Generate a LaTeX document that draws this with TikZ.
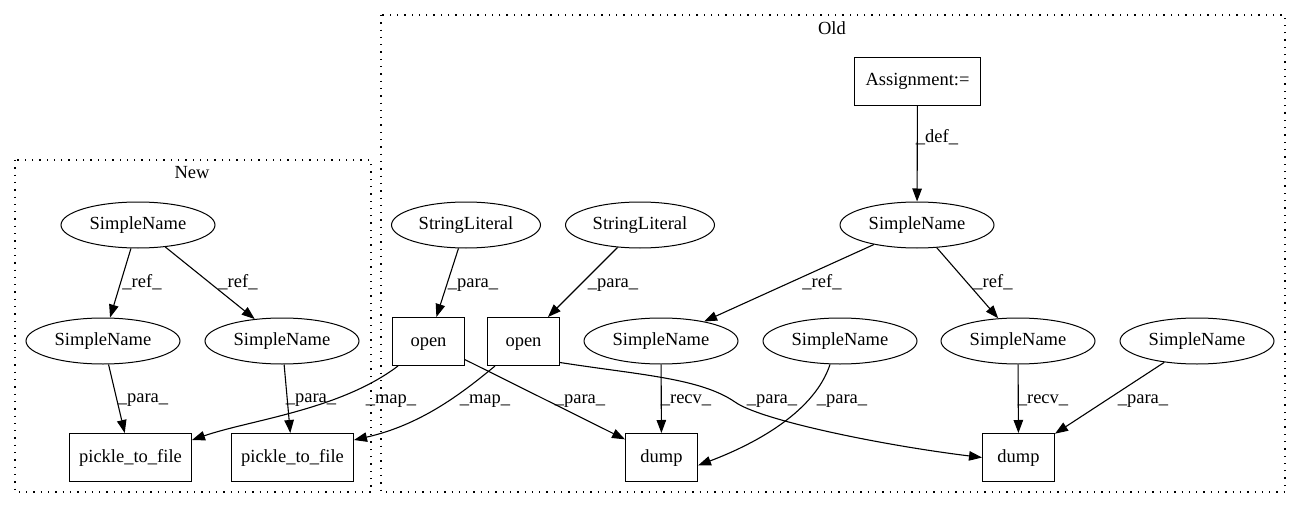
\documentclass[tikz,border=0pt]{standalone}
\usepackage{fontspec}
\setmainfont{Liberation Serif}
\usetikzlibrary{arrows.meta,positioning,shapes.geometric}
\tikzset{
    ell/.style={ellipse, draw, inner sep=0pt, minimum width=154pt, minimum height=46pt, text height=13pt, text depth=4pt},
    box/.style={rectangle, draw, inner xsep=8pt, inner ysep=0pt, minimum width=72pt, minimum height=48pt, text height=13pt, text depth=4pt},
    lbl/.style={inner sep=0pt, text height=13pt, text depth=4pt},
    edge/.style={-{Triangle[length=13pt,width=9.5pt]}, line width=1.1pt},
    clus/.style={line width=1.3pt, dash pattern=on 1.3pt off 6pt}
}

\begin{document}
\begin{tikzpicture}[x=1pt,y=-1pt,line width=1pt,font=\fontsize{18.5}{22}\selectfont]
\useasboundingbox (0,0) rectangle (1301,508);
% clusters
\draw[clus] (15,160) rectangle (371,492);
\draw[clus] (381,15) rectangle (1285,492);
\node[lbl] (tnew) at (192,174) {New};
\node[lbl] (told) at (832,30) {Old};
% new
\node[ell] (snA) at (138,225) {SimpleName};
\node[ell] (snB) at (103,341) {SimpleName};
\node[ell] (snC) at (282,341) {SimpleName};
\node[box, minimum width=122pt] (ptfA) at (130.5,457.5) {pickle\_to\_file};
\node[box, minimum width=122pt] (ptfB) at (292.5,457.5) {pickle\_to\_file};
% old
\node[box, minimum width=126pt] (asg) at (917.5,81.5) {Assignment:=};
\node[ell] (snD) at (917,225) {SimpleName};
\node[ell, minimum width=149pt] (slA) at (466,225) {StringLiteral};
\node[ell, minimum width=149pt] (slB) at (640,225) {StringLiteral};
\node[box] (opA) at (428.5,341.5) {open};
\node[box] (opB) at (523.5,341.5) {open};
\node[ell] (snE) at (661,341) {SimpleName};
\node[ell] (snF) at (840,341) {SimpleName};
\node[ell] (snG) at (1018,341) {SimpleName};
\node[ell] (snH) at (1197,341) {SimpleName};
\node[box] (dmpA) at (661.5,457.5) {dump};
\node[box] (dmpB) at (1018.5,457.5) {dump};
% edges
\draw[edge] (snA) -- (snB) node[lbl] at (142,283) {\_ref\_};
\draw[edge] (snA) -- (snC) node[lbl] at (238,283) {\_ref\_};
\draw[edge] (snB) -- (ptfA) node[lbl] at (143,398) {\_para\_};
\draw[edge] (snC) -- (ptfB) node[lbl] at (311,398) {\_para\_};
\draw[edge] ([xshift=6pt]opA.south west) .. controls (340,410) and (250,420) .. ([yshift=-7pt]ptfA.north east);
\node[lbl] (mapA) at (391,399) {\_map\_};
\draw[edge] ([xshift=8pt]opB.south west) .. controls (460,395) and (420,425) .. ([yshift=-7pt]ptfB.north east);
\node[lbl] (mapB) at (485,399) {\_map\_};
\draw[edge] (asg) -- (snD) node[lbl] at (937,138) {\_def\_};
\draw[edge] (snD) -- (snE) node[lbl] at (822,283) {\_ref\_};
\draw[edge] (snD) -- (snG) node[lbl] at (993,283) {\_ref\_};
\draw[edge] (slA) -- (opA) node[lbl] at (473,283) {\_para\_};
\draw[edge] (slB) -- (opB) node[lbl] at (613,283) {\_para\_};
\draw[edge] (opA) -- (dmpA) node[lbl] at (580,399) {\_para\_};
\draw[edge] ([yshift=-21pt]opB.east) .. controls (640,375) and (700,378) .. (735,402)
    .. controls (760,420) and (880,445) .. (dmpB.west);
\node[lbl] (paraB) at (772,399) {\_para\_};
\draw[edge] (snE) -- (dmpA) node[lbl] at (686,399) {\_recv\_};
\draw[edge] ([xshift=-10pt]snF.south) .. controls (815,410) and (760,442) .. ([yshift=-8pt]dmpA.east);
\node[lbl] (paraC) at (842,399) {\_para\_};
\draw[edge] (snG) -- (dmpB) node[lbl] at (1043,399) {\_recv\_};
\draw[edge] (snH) -- (dmpB) node[lbl] at (1143,399) {\_para\_};
\end{tikzpicture}
\end{document}
